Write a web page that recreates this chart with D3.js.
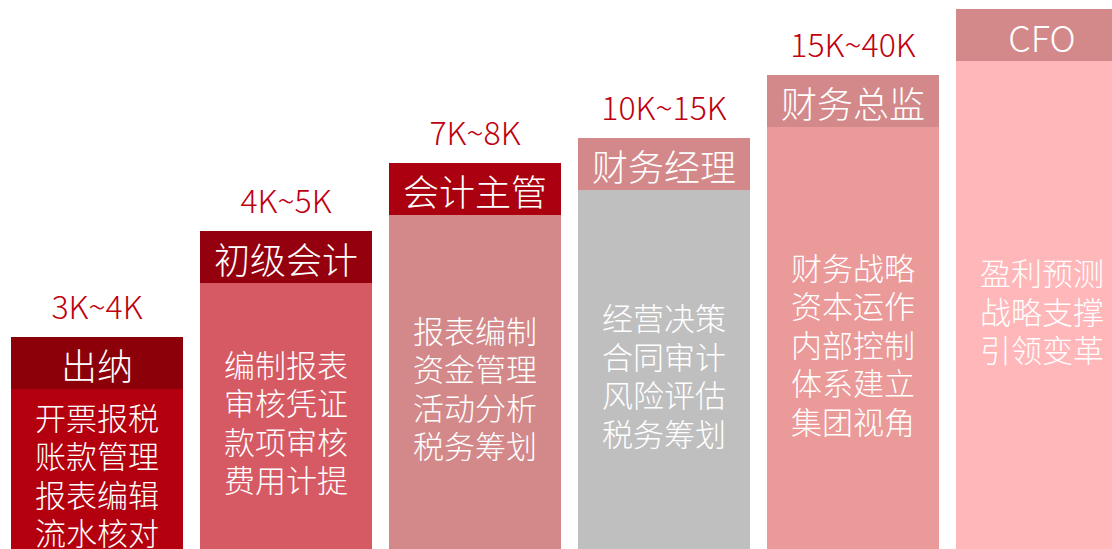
<!DOCTYPE html>
<html>
<head>
<meta charset="utf-8">
<script src="https://cdn.jsdelivr.net/npm/d3@7"></script>
<style>
  html, body { margin: 0; padding: 0; background: #fff; }
  svg { display: block; font-family: "Noto Sans CJK SC", "Noto Sans", sans-serif; font-weight: 300; }
</style>
</head>
<body>
<svg id="chart" width="1112" height="549"></svg>
<script>
// career ladder data
let titles = ['出纳', '初级会计', '会计主管', '财务经理', '财务总监', 'CFO'];
let salaries = ['3K~4K', '4K~5K', '7K~8K', '10K~15K', '15K~40K', ''];
let levels = [212, 318, 386, 411, 474, 540];
let duties = [
  ['开票报税', '账款管理', '报表编辑', '流水核对'],
  ['编制报表', '审核凭证', '款项审核', '费用计提'],
  ['报表编制', '资金管理', '活动分析', '税务筹划'],
  ['经营决策', '合同审计', '风险评估', '税务筹划'],
  ['财务战略', '资本运作', '内部控制', '体系建立', '集团视角'],
  ['盈利预测', '战略支撑', '引领变革']
];
let headColors = ['#8b0009', '#94000e', '#ab0010', '#d3898a', '#d3898a', '#d3898a'];
let bodyColors = ['#b4000e', '#d65a64', '#d3898a', '#bfbfbf', '#eb9a9a', '#ffb7ba'];

function main() {
  let width = 1112, height = 549;
  let headH = 52, lineH = 38.5;

  let svg = d3.select('#chart');

  let x = d3.scaleBand()
    .domain(titles)
    .range([11, 1128])
    .paddingInner(0.09)
    .paddingOuter(0);

  let y = d3.scaleLinear()
    .domain([0, 540])
    .range([height, 9]);

  let data = titles.map((t, i) => ({
    title: t, salary: salaries[i], level: levels[i], duties: duties[i],
    head: headColors[i], body: bodyColors[i]
  }));

  let col = svg.selectAll('g.col')
    .data(data)
    .join('g')
    .attr('class', 'col')
    .attr('transform', d => `translate(${x(d.title)},0)`);

  // body block
  col.append('rect')
    .attr('y', d => y(d.level))
    .attr('width', x.bandwidth())
    .attr('height', d => height - y(d.level))
    .attr('fill', d => d.body);

  // header band
  col.append('rect')
    .attr('y', d => y(d.level))
    .attr('width', x.bandwidth())
    .attr('height', headH)
    .attr('fill', d => d.head);

  col.append('text')
    .attr('x', x.bandwidth() / 2)
    .attr('y', d => y(d.level) + headH / 2 + 1)
    .attr('text-anchor', 'middle')
    .attr('dominant-baseline', 'central')
    .attr('fill', '#fff')
    .attr('font-size', 36)
    .text(d => d.title);

  // salary above
  col.append('text')
    .attr('x', x.bandwidth() / 2)
    .attr('y', d => y(d.level) - 18)
    .attr('text-anchor', 'middle')
    .attr('fill', '#c0000f')
    .attr('font-size', 32)
    .text(d => d.salary);

  // duty lines
  col.each(function(d) {
    let top = y(d.level) + headH;
    let mid = (top + height) / 2 + 5;
    let n = d.duties.length;
    d3.select(this).selectAll('text.duty')
      .data(d.duties)
      .join('text')
      .attr('class', 'duty')
      .attr('x', x.bandwidth() / 2)
      .attr('y', (s, j) => mid + (j - (n - 1) / 2) * lineH)
      .attr('text-anchor', 'middle')
      .attr('dominant-baseline', 'central')
      .attr('fill', '#fff')
      .attr('font-size', 31)
      .text(s => s);
  });
}

main();
</script>
</body>
</html>
